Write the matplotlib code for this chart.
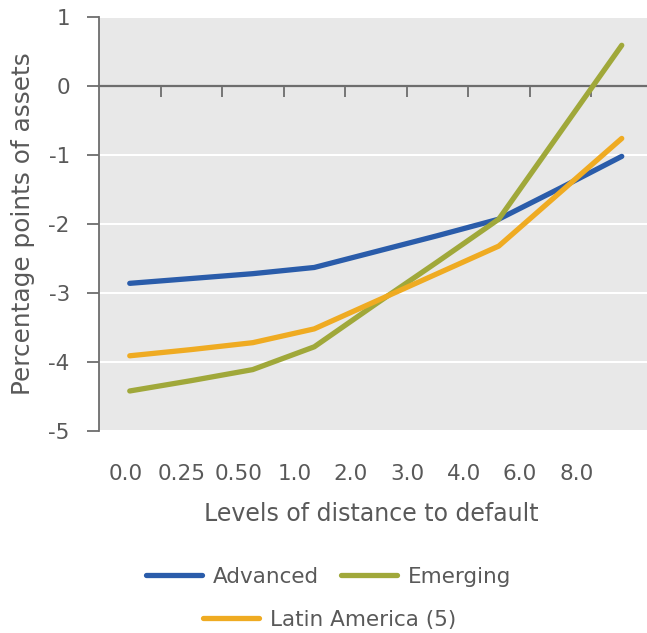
import numpy as np
import matplotlib
matplotlib.use('Agg')
import matplotlib.pyplot as plt

# data
categories = ['0.0', '0.25', '0.50', '1.0', '2.0', '3.0', '4.0', '6.0', '8.0']
advanced = [-2.86, -2.79, -2.72, -2.63, -2.40, -2.17, -1.93, -1.48, -1.02]
emerging = [-4.42, -4.27, -4.11, -3.78, -3.16, -2.55, -1.93, -0.67, 0.59]
latin_america = [-3.91, -3.82, -3.72, -3.52, -3.12, -2.72, -2.32, -1.54, -0.76]
y_ticks = [1, 0, -1, -2, -3, -4, -5]

# tick labels in the reference sit a bit tighter than the points
label_pos = -0.065 + 0.9155 * np.arange(len(categories))

color_adv = '#2a5caa'
color_em = '#a0a83a'
color_lat = '#efab22'
text_color = '#595959'
axis_color = '#6d6d6d'

plt.rcParams['font.family'] = ['DejaVu Sans']

fig = plt.figure(figsize=(6.47, 6.33), dpi=100)
ax = fig.add_axes([99 / 647, 1 - 431 / 633, 553.5 / 647, 414 / 633])
ax.set_facecolor('#e8e8e8')

x = np.arange(len(categories))
lw = 3.8
ax.plot(x, advanced, color=color_adv, lw=lw, solid_capstyle='round', label='Advanced', zorder=3)
ax.plot(x, emerging, color=color_em, lw=lw, solid_capstyle='round', label='Emerging', zorder=3)
ax.plot(x, latin_america, color=color_lat, lw=lw, solid_capstyle='round', label='Latin America (5)', zorder=3)

ax.set_xlim(-0.5, 8.5)
ax.set_ylim(-5, 1)

# white gridlines
ax.set_yticks(y_ticks)
ax.set_yticklabels([str(t) for t in y_ticks])
ax.yaxis.grid(True, color='white', lw=1.5)
ax.set_axisbelow(True)
ax.tick_params(axis='y', length=9, width=1.3, color=axis_color, pad=12,
               labelsize=15.5, labelcolor=text_color)

for s in ['top', 'right']:
    ax.spines[s].set_visible(False)
ax.spines['left'].set_color(axis_color)
ax.spines['left'].set_linewidth(1.3)
ax.spines['bottom'].set_position(('data', 0))
ax.spines['bottom'].set_color(axis_color)
ax.spines['bottom'].set_linewidth(1.6)
ax.spines['bottom'].set_zorder(2)

# ticks on the zero line at category boundaries
ax.set_xticks(np.arange(0.5, 8, 1))
ax.set_xticklabels([])
ax.tick_params(axis='x', direction='out', length=8, width=1.3, color=axis_color)

# category labels along the bottom of the plot area
sec = ax.secondary_xaxis(0)
sec.set_xticks(label_pos, labels=categories)
sec.tick_params(length=0, pad=24, labelsize=15.5, labelcolor=text_color)
sec.spines['bottom'].set_visible(False)

ax.set_ylabel('Percentage points of assets', fontsize=17.8, color=text_color, labelpad=10)
fig.text(371 / 647, 1 - 514 / 633, 'Levels of distance to default', fontsize=17,
         color=text_color, ha='center', va='center')

handles, labels = ax.get_legend_handles_labels()
leg1 = fig.legend(handles[:2], labels[:2], loc='center', ncol=2, frameon=False,
                  bbox_to_anchor=(328.5 / 647, 1 - 577 / 633), fontsize=15.5,
                  handlelength=2.6, handletextpad=0.5, columnspacing=1.0,
                  labelcolor=text_color)
leg2 = fig.legend(handles[2:], labels[2:], loc='center', frameon=False,
                  bbox_to_anchor=(329.5 / 647, 1 - 620 / 633), fontsize=15.5,
                  handlelength=2.6, handletextpad=0.5, labelcolor=text_color)

fig.savefig('out.png', dpi=100)
